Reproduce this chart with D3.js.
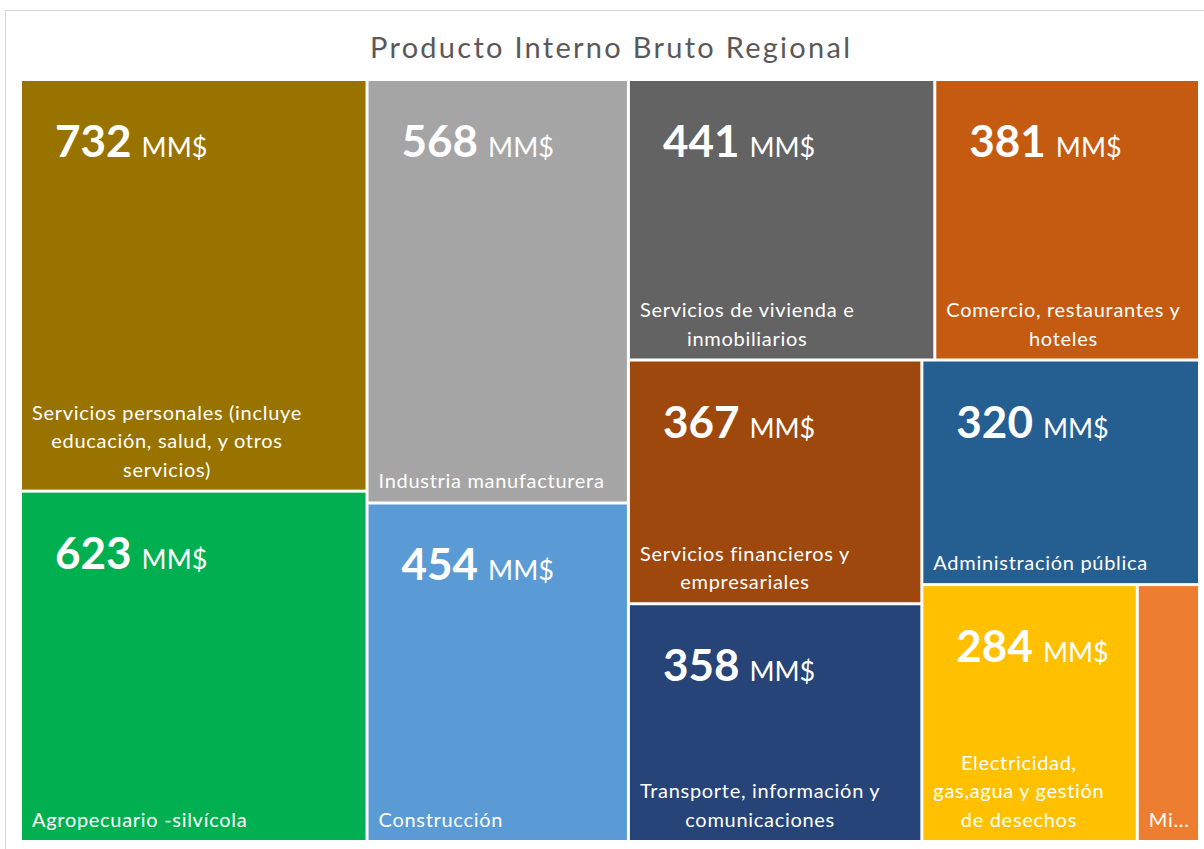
<!DOCTYPE html>
<html>
<head>
<meta charset="utf-8">
<script src="https://cdn.jsdelivr.net/npm/d3@7.9.0/dist/d3.min.js"></script>
<style>
  html, body { margin: 0; padding: 0; background: #fff; }
  svg { display: block; font-family: Lato, "Open Sans", sans-serif; }
</style>
</head>
<body>
<svg id="chart" width="1204" height="849"></svg>
<script>
// --- Data ---
const title = 'Producto Interno Bruto Regional';
const categories = [
  'Servicios personales (incluye\neducación, salud, y otros\nservicios)',
  'Agropecuario -silvícola',
  'Industria manufacturera',
  'Construcción',
  'Servicios de vivienda e\ninmobiliarios',
  'Comercio, restaurantes y\nhoteles',
  'Servicios financieros y\nempresariales',
  'Administración pública',
  'Transporte, información y\ncomunicaciones',
  'Electricidad,\ngas,agua y gestión\nde desechos',
  'Minería'
];
const values = [732, 623, 568, 454, 441, 381, 367, 320, 358, 284, 82];
const colors = ['#997300', '#00b050', '#a5a5a5', '#5b9bd5', '#636363', '#c55a11',
                '#9e480e', '#255e91', '#264478', '#ffc000', '#ed7d31'];
const unit = 'MM$';
// nesting of the Excel treemap layout (indices into categories)
const groups = [[0, 1], [2, 3], [[4, 5], [[6, 8], [7, [9, 10]]]]];

// --- Layout ---
const svg = d3.select('#chart');
const plot = { x: 22, y: 81, w: 1176, h: 759 };

// outer chart border
svg.append('rect')
  .attr('x', 5.5).attr('y', 10.5)
  .attr('width', 1220).attr('height', 860)
  .attr('fill', 'none').attr('stroke', '#d9d9d9');

svg.append('text')
  .attr('x', 370).attr('y', 58)
  .attr('font-size', 29)
  .attr('textLength', 480)
  .attr('lengthAdjust', 'spacing')
  .attr('fill', '#595959')
  .text(title);

// turn the index nesting into a hierarchy
const toNode = g => Array.isArray(g)
  ? { children: g.map(toNode) }
  : { i: g, name: categories[g], value: values[g] };

const root = d3.hierarchy(toNode(groups))
  .sum(d => d.children ? 0 : d.value);

d3.treemap()
  .tile(d3.treemapSliceDice)
  .size([plot.w, plot.h])
  .paddingInner(3)
  .round(false)(root);

const g = svg.append('g').attr('transform', `translate(${plot.x},${plot.y})`);

const cell = g.selectAll('g.cell')
  .data(root.leaves())
  .join('g')
    .attr('class', 'cell')
    .attr('transform', d => `translate(${d.x0},${d.y0})`);

cell.append('rect')
  .attr('width', d => d.x1 - d.x0)
  .attr('height', d => d.y1 - d.y0)
  .attr('fill', d => colors[d.data.i]);

// value labels (big number + unit)
const valueLabel = cell.filter(d => d.x1 - d.x0 > 120)
  .append('text')
    .attr('x', 33)
    .attr('y', 76)
    .attr('fill', '#fff');
valueLabel.append('tspan')
  .attr('font-weight', 'bold')
  .attr('font-size', 44)
  .text(d => d.data.value);
valueLabel.append('tspan')
  .attr('dx', 10)
  .attr('font-size', 27)
  .text(unit);

// category labels, bottom-left block, lines centred inside the block
const lineH = 28.5;
cell.each(function(d) {
  const w = d.x1 - d.x0, h = d.y1 - d.y0;
  const lines = d.data.name.split('\n');
  const t = d3.select(this).append('text')
    .attr('fill', '#fff')
    .attr('font-size', 20)
    .attr('letter-spacing', 0.7);
  const spans = t.selectAll('tspan')
    .data(lines)
    .join('tspan')
      .attr('y', (_, k) => h - 13 - (lines.length - 1 - k) * lineH)
      .text(s => s);

  // truncate with ellipsis when the cell is too narrow
  const maxW = w - 14;
  spans.each(function() {
    const node = this;
    let s = node.textContent;
    if (node.getComputedTextLength() > maxW) {
      while (s.length > 1) {
        s = s.slice(0, -1);
        node.textContent = s + '...';
        if (node.getComputedTextLength() <= maxW) break;
      }
    }
  });

  const widths = spans.nodes().map(n => n.getComputedTextLength());
  const blockW = d3.max(widths);
  spans.attr('x', (_, k) => (lines.length === 1 && widths[k] < 40 ? 9 : 10) + (blockW - widths[k]) / 2);
});
</script>
</body>
</html>
